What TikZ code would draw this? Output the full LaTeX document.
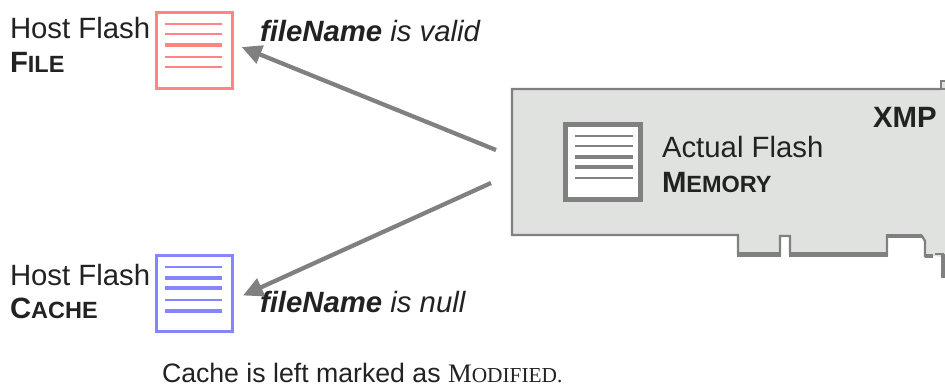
\documentclass[tikz,border=0pt]{standalone}
\usepackage{fontspec}
\setmainfont{Liberation Sans}
\newfontfamily\capserif{Liberation Serif}
\usetikzlibrary{arrows.meta}
\definecolor{txt}{HTML}{222222}
\definecolor{rd}{HTML}{FF8585}
\definecolor{bl}{HTML}{8585FF}
\definecolor{gr}{HTML}{808080}
\definecolor{cardfill}{HTML}{DFE2DE}
\newcommand{\bigf}{\fontsize{22}{26}\selectfont}
\newcommand{\smf}{\fontsize{17.6}{20}\selectfont}
\newcommand{\capf}{\fontsize{20}{24}\selectfont}
\tikzset{
  lbl/.style={anchor=base west,inner sep=0pt,outer sep=0pt,text=txt,font=\bigf},
  docbox/.style={draw=#1,fill=white,line width=2.4pt,minimum size=56.7pt,inner sep=0pt,outer sep=0pt},
  thinl/.style={line width=1.5pt},
  thickl/.style={line width=3pt},
  flow/.style={draw=gr,line width=3.2pt,-{Triangle[length=15pt,width=14pt]}}
}
\begin{document}
\begin{tikzpicture}[x=0.75pt,y=-0.75pt]
\useasboundingbox (0,0) rectangle (945,386);
% card
\fill[cardfill] (512,89) -- (940,89) -- (940,81) -- (945,81) -- (945,278) -- (943,278) -- (943,257) -- (925,255) -- (923,236) -- (887,236) -- (887,254) -- (790,254) -- (790,236) -- (780,236) -- (780,254) -- (738,254) -- (738,235) -- (512,235) -- cycle;
\draw[gr,line width=1.7pt] (945,89) -- (941,89) -- (941,81) -- (945,81);
\draw[gr,line width=1.7pt,line join=miter] (941,89) -- (512,89) -- (512,235) -- (738,235) -- (738,254) -- (780,254) -- (780,236) -- (790,236) -- (790,254) -- (887,254) -- (887,236) -- (922,236) -- (925,241) -- (925,256) -- (933,256);
\draw[gr,line width=3.2pt] (737,254.5) -- (781,254.5);
\draw[gr,line width=3.2pt] (789,254.5) -- (888,254.5);
\draw[gr,line width=3.4pt] (886,236) -- (922,236);
\draw[gr,line width=3pt] (925,256) -- (933,256);
\draw[gr,line width=2pt] (935,254) -- (944,254);
\draw[gr,line width=2.6pt] (943,254) -- (943,278);
\coordinate (cardUp) at (496,150);
\coordinate (cardDown) at (491,183);
% documents
\node[docbox=rd] (fileBox) at (194.5,50.5) {};
\node[docbox=bl] (cacheBox) at (194.5,293.5) {};
\node[docbox=gr,line width=3.4pt,minimum size=56.6pt] (memBox) at (603,162) {};
\foreach \yy/\st in {24/thinl,34/thinl,45/thickl,57/thinl,67/thinl}
  \draw[rd,\st] (165,\yy) -- (222,\yy);
\foreach \yy/\st in {267/thinl,278/thickl,288/thickl,300/thinl,311/thickl}
  \draw[bl,\st] (165,\yy) -- (222,\yy);
\foreach \yy/\st in {136/thinl,146/thinl,157/thickl,167/thickl,178/thinl}
  \draw[gr,\st] (575,\yy) -- (633,\yy);
% arrows
\coordinate (fileTip) at ([xshift=7pt,yshift=2.6pt]fileBox.east);
\coordinate (cacheTip) at ([xshift=8pt,yshift=-1.5pt]cacheBox.east);
\draw[flow] (cardUp) -- (fileTip);
\draw[flow] (cardDown) -- (cacheTip);
% labels
\node[lbl] (hf1) at (10,38) {Host Flash};
\node[lbl] (file) at (10,72) {\textbf{F\smf ILE}};
\node[lbl] (hf2) at (10,285) {Host Flash};
\node[lbl] (cache) at (10,318) {\textbf{C\smf ACHE}};
\node[lbl] (af) at (662,157) {Actual Flash};
\node[lbl] (mem) at (662,192) {\textbf{M\smf EMORY}};
\node[lbl,font=\bigf\bfseries] (xmp) at (873,127) {XMP};
\node[lbl,font=\bigf\itshape] (valid) at (260,41) {\textbf{fileName} is valid};
\node[lbl,font=\bigf\itshape] (null) at (260,312) {\textbf{fileName} is null};
\node[lbl,font=\capf] (note) at (162,382) {Cache is left marked as {\capserif M\fontsize{16}{20}\selectfont ODIFIED.}};
\end{tikzpicture}
\end{document}
